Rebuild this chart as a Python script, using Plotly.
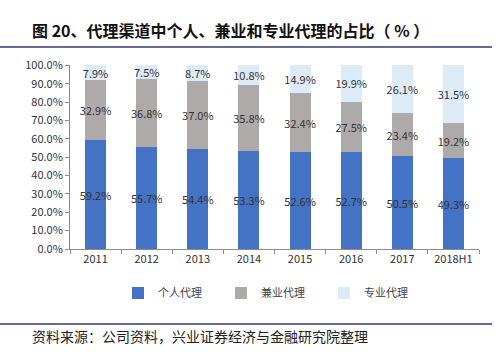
import plotly.graph_objects as go

categories = ["2011", "2012", "2013", "2014", "2015", "2016", "2017", "2018H1"]
individual = [59.2, 55.7, 54.4, 53.3, 52.6, 52.7, 50.5, 49.3]
parttime = [32.9, 36.8, 37.0, 35.8, 32.4, 27.5, 23.4, 19.2]
professional = [7.9, 7.5, 8.7, 10.8, 14.9, 19.9, 26.1, 31.5]
series_names = ["个人代理", "兼业代理", "专业代理"]
colors = ["#4472C4", "#AEAAAA", "#DDEBF7"]
ytickvals = [i * 10 for i in range(11)]
yticktext = [f"{v:.1f}%" for v in ytickvals]

W, H = 496, 353
L, R, T, B = 70, 17, 65, 104
pw, ph = W - L - R, H - T - B

def px_x(x):
    return (x - L) / pw

def px_y(y):
    return (H - B - y) / ph

font_fam = "Noto Sans CJK SC, DejaVu Sans, sans-serif"

fig = go.Figure()
for name, vals, c in zip(series_names, [individual, parttime, professional], colors):
    fig.add_trace(go.Bar(
        x=categories, y=vals, name=name, marker=dict(color=c, line=dict(width=0)),
        text=[f"{v:.1f}%" for v in vals], textposition="inside",
        insidetextanchor="middle", textangle=0, constraintext="none",
        textfont=dict(size=11, color="#333333", family=font_fam),
        cliponaxis=False,
    ))

fig.update_layout(
    barmode="stack", bargap=0.59,
    uniformtext=dict(mode="show", minsize=11),
    width=W, height=H, margin=dict(l=L, r=R, t=T, b=B),
    paper_bgcolor="white", plot_bgcolor="white",
    font=dict(family=font_fam, size=11, color="#333333"),
    showlegend=True,
    legend=dict(orientation="h", x=px_x(118), xanchor="left", y=px_y(293), yanchor="middle",
                font=dict(size=11, color="#444444"), itemwidth=30, traceorder="normal",
                entrywidth=58, entrywidthmode="pixels"),
    xaxis=dict(showline=True, linecolor="#8C8C8C", linewidth=1, ticks="outside",
               tickson="boundaries", ticklen=4, tickcolor="#8C8C8C", showgrid=False,
               tickfont=dict(size=11, color="#333333")),
    yaxis=dict(range=[0, 100.15], tickvals=ytickvals, ticktext=yticktext, showline=True,
               linecolor="#8C8C8C", linewidth=1, ticks="outside", ticklen=4,
               tickcolor="#8C8C8C", showgrid=False, zeroline=False,
               tickfont=dict(size=11, color="#333333")),
)

fig.add_shape(type="line", xref="paper", yref="paper", x0=px_x(0), x1=px_x(492),
              y0=px_y(47), y1=px_y(47), line=dict(color="#2E3A78", width=1.5))
fig.add_shape(type="line", xref="paper", yref="paper", x0=px_x(0), x1=px_x(492),
              y0=px_y(324), y1=px_y(324), line=dict(color="#2E3A78", width=1.5))

fig.add_annotation(xref="paper", yref="paper", x=px_x(30), y=px_y(30), xanchor="left",
                   yanchor="middle", showarrow=False,
                   text="<b>图 20、代理渠道中个人、兼业和专业代理的占比（ % ）</b>",
                   font=dict(size=16, color="#111111", family=font_fam))
fig.add_annotation(xref="paper", yref="paper", x=px_x(30), y=px_y(336), xanchor="left",
                   yanchor="middle", showarrow=False,
                   text="资料来源：公司资料，兴业证券经济与金融研究院整理",
                   font=dict(size=14, color="#222222", family=font_fam))

fig.write_html("out.html")
